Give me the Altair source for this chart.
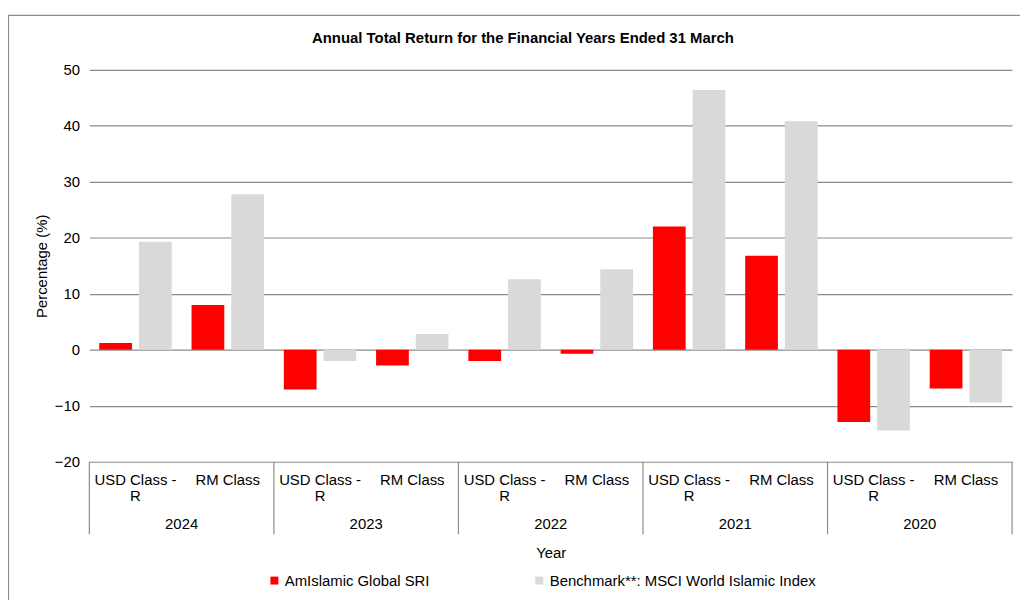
import altair as alt
import pandas as pd

years = ["2024", "2023", "2022", "2021", "2020"]
classes = ["USD Class - R", "RM Class"]
class_labels = ["USD Class -\nR", "RM Class"]
series = ["AmIslamic Global SRI", "Benchmark**: MSCI World Islamic Index"]
colors = ["#ff0000", "#d9d9d9"]
title_text = "Annual Total Return for the Financial Years Ended 31 March"

# values in order: 2024 USD, 2024 RM, 2023 USD, 2023 RM, ...
fund = [1.2, 8.0, -7.1, -2.8, -2.0, -0.7, 22.0, 16.8, -12.9, -6.9]
bench = [19.3, 27.8, -2.0, 2.8, 12.6, 14.4, 46.4, 40.8, -14.4, -9.4]

W, H = 930, 395
FONT = "Liberation Sans"
FS = 15

keys, rows, lab_rows, year_rows = [], [], [], []
i = 0
for y in years:
    for c, cl in zip(classes, class_labels):
        k = f"{y}|{c}"
        keys.append(k)
        rows.append({"key": k, "series": series[0], "value": fund[i]})
        rows.append({"key": k, "series": series[1], "value": bench[i]})
        lab_rows.append({"key": k, "label": cl})
        i += 1
    year_rows.append({"key": f"{y}|{classes[1]}", "ykey": f"{y}|{classes[0]}", "year": y})

df = pd.DataFrame(rows)
labs = pd.DataFrame(lab_rows)
yrs = pd.DataFrame(year_rows)
last = pd.DataFrame([{"key": keys[-1], "title": title_text}])

xscale = alt.Scale(domain=keys, paddingInner=0, paddingOuter=0)

bars = alt.Chart(df).mark_bar(stroke=None).encode(
    x=alt.X("key:N", scale=xscale, sort=keys,
            axis=alt.Axis(labels=False, ticks=False, domain=False, grid=False,
                          title="Year", titlePadding=85, titleFontWeight="normal",
                          titleFont=FONT, titleFontSize=FS, titleColor="#000")),
    xOffset=alt.XOffset("series:N", sort=series,
                        scale=alt.Scale(domain=series, paddingInner=0.175, paddingOuter=0.25)),
    y=alt.Y("value:Q", scale=alt.Scale(domain=[-20, 50], nice=False, zero=False),
            axis=alt.Axis(values=list(range(-20, 51, 10)), grid=True, ticks=False, domain=False,
                          gridColor="#8c8c8c", gridWidth=1.2, labelPadding=10,
                          labelFont=FONT, labelFontSize=FS, labelColor="#000",
                          title="Percentage (%)", titleFont=FONT, titleFontSize=FS,
                          titleFontWeight="normal", titleColor="#000", titlePadding=5)),
    color=alt.Color("series:N", scale=alt.Scale(domain=series, range=colors),
                    legend=alt.Legend(title=None, orient="none", direction="horizontal",
                                      legendX=179, legendY=507, symbolType="square",
                                      symbolSize=64, symbolStrokeWidth=0, labelOffset=3,
                                      columnPadding=103, labelFont=FONT, labelFontSize=FS,
                                      labelColor="#000", labelLimit=500)),
)

class_text = alt.Chart(labs).mark_text(
    font=FONT, fontSize=FS, color="#000", baseline="top", lineBreak="\n", lineHeight=17
).encode(
    x=alt.X("key:N", scale=xscale, sort=keys),
    y=alt.value(H + 11),
    text="label:N",
)

year_text = alt.Chart(yrs).mark_text(
    font=FONT, fontSize=FS, color="#000", baseline="middle"
).encode(
    x=alt.X("key:N", scale=xscale, sort=keys, bandPosition=0),
    y=alt.value(H + 63),
    text="year:N",
)

sep = alt.Chart(yrs).mark_rule(color="#8c8c8c", strokeWidth=1.2).encode(
    x=alt.X("ykey:N", scale=xscale, sort=keys, bandPosition=0),
    y=alt.value(H),
    y2=alt.value(H + 73),
)
sep_end = alt.Chart(last).mark_rule(color="#8c8c8c", strokeWidth=1.2).encode(
    x=alt.X("key:N", scale=xscale, sort=keys, bandPosition=1),
    y=alt.value(H),
    y2=alt.value(H + 73),
)

border = alt.Chart(last).mark_rect(filled=False, stroke="#8c8c8c", strokeWidth=1.2).encode(
    x=alt.value(-81.5), x2=alt.value(W + 40),
    y=alt.value(-55), y2=alt.value(H + 200),
)

title = alt.Chart(last).mark_text(
    font=FONT, fontSize=15, fontWeight="bold", color="#000", baseline="middle"
).encode(
    x=alt.value(W / 2 - 28),
    y=alt.value(-32),
    text="title:N",
)

chart = alt.layer(border, sep, sep_end, bars, class_text, year_text, title).properties(
    width=W, height=H,
    autosize=alt.AutoSizeParams(type="none"),
    padding={"left": 82, "top": 60, "right": 8, "bottom": 137},
).configure_view(stroke=None)

chart.save("out.html", embed_options={"renderer": "svg", "actions": False})
